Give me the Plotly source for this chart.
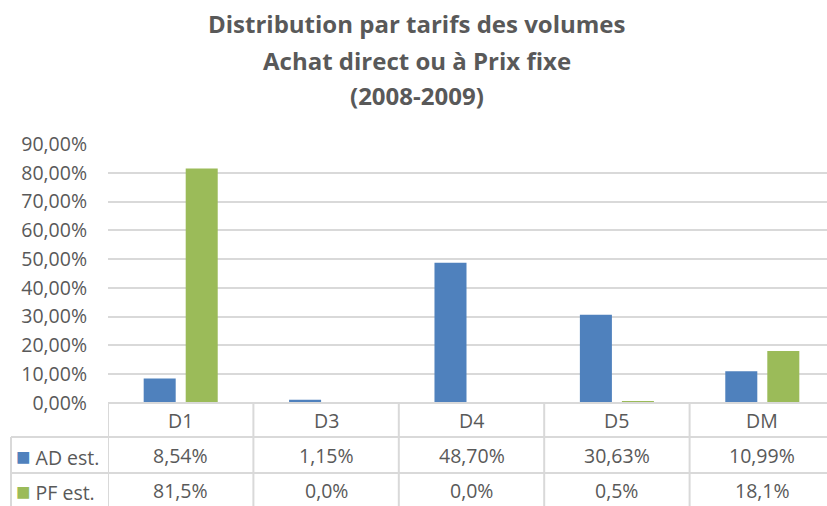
import plotly.graph_objects as go

categories = ["D1", "D3", "D4", "D5", "DM"]
ad_values = [8.54, 1.15, 48.70, 30.63, 10.99]   # %
pf_values = [81.5, 0.0, 0.0, 0.5, 18.1]         # %
series_names = ["AD est.", "PF est."]
title_lines = ["Distribution par tarifs des volumes", "Achat direct ou à Prix fixe", "(2008-2009)"]

BLUE = "#4F81BD"
GREEN = "#9BBB59"
TXT = "#595959"
GRID = "#D9D9D9"
FONT = "Open Sans"
FS = 19.5

W, H = 827, 506
ML, MT, MB = 108, 144, 103
PH = H - MT - MB
CAT_W = 145.4

def py(px):  # pixel y -> paper y
    return (H - MB - px) / PH

def pxp(px):  # pixel x -> paper x
    return (px - ML) / (W - ML)

fig = go.Figure()
fig.add_trace(go.Bar(x=categories, y=[v / 100 for v in ad_values], name=series_names[0],
                     marker=dict(color=BLUE, line=dict(width=0))))
fig.add_trace(go.Bar(x=categories, y=[v / 100 for v in pf_values], name=series_names[1],
                     marker=dict(color=GREEN, line=dict(width=0))))

shapes = []
shapes.append(dict(type="line", xref="x", yref="paper", x0=-0.5, x1=len(categories) - 0.5,
                   y0=0, y1=0, line=dict(color=GRID, width=2)))
for ypx in (437, 473):
    shapes.append(dict(type="line", xref="paper", yref="paper", x0=pxp(11), x1=1,
                       y0=py(ypx), y1=py(ypx), line=dict(color=GRID, width=2)))
for i in range(len(categories) + 1):
    shapes.append(dict(type="line", xref="x", yref="paper", x0=i - 0.5, x1=i - 0.5,
                       y0=0, y1=py(520), line=dict(color=GRID, width=2)))
shapes.append(dict(type="line", xref="paper", yref="paper", x0=pxp(11), x1=pxp(11),
                   y0=py(437), y1=py(520), line=dict(color=GRID, width=2)))

annotations = []
for i, c in enumerate(categories):
    annotations.append(dict(x=c, xref="x", y=py(420), yref="paper", text=c, showarrow=False,
                            font=dict(family=FONT, size=FS, color=TXT), yanchor="middle"))
    annotations.append(dict(x=c, xref="x", y=py(455), yref="paper",
                            text=f"{ad_values[i]:.2f}%".replace(".", ","), showarrow=False,
                            font=dict(family=FONT, size=FS, color=TXT), yanchor="middle"))
    annotations.append(dict(x=c, xref="x", y=py(490), yref="paper",
                            text=f"{pf_values[i]:.1f}%".replace(".", ","), showarrow=False,
                            font=dict(family=FONT, size=FS, color=TXT), yanchor="middle"))
for name, col, ypx in ((series_names[0], BLUE, 455), (series_names[1], GREEN, 490)):
    annotations.append(dict(x=pxp(14), xref="paper", y=py(ypx), yref="paper",
                            text=f"<span style='color:{col};font-size:24px'>■</span> {name}",
                            showarrow=False, xanchor="left", yanchor="middle",
                            font=dict(family=FONT, size=FS, color=TXT)))
for line, ypx in zip(title_lines, (23, 60, 96)):
    annotations.append(dict(x=pxp(417), xref="paper", y=py(ypx), yref="paper", text=f"<b>{line}</b>",
                            showarrow=False, yanchor="middle", xanchor="center",
                            font=dict(family=FONT, size=24, color=TXT)))

fig.update_layout(
    width=W, height=H,
    margin=dict(l=ML, r=0, t=MT, b=MB),
    paper_bgcolor="white", plot_bgcolor="white",
    barmode="group", bargap=0.422, bargroupgap=0.238,
    showlegend=False,
    separators=", ",
    xaxis=dict(range=[-0.5, -0.5 + (W - ML) / CAT_W], showticklabels=False, showgrid=False,
               zeroline=False, showline=False, fixedrange=True),
    yaxis=dict(range=[0, 0.9], dtick=0.1, tickformat=".2%", gridcolor=GRID, gridwidth=1.5,
               zeroline=False, showline=False, ticklabelstandoff=20,
               tickfont=dict(family=FONT, size=FS, color=TXT)),
    shapes=shapes,
    annotations=annotations,
)

fig.write_html("out.html", config={"displayModeBar": False},
               post_script="document.body.style.margin='0';")
